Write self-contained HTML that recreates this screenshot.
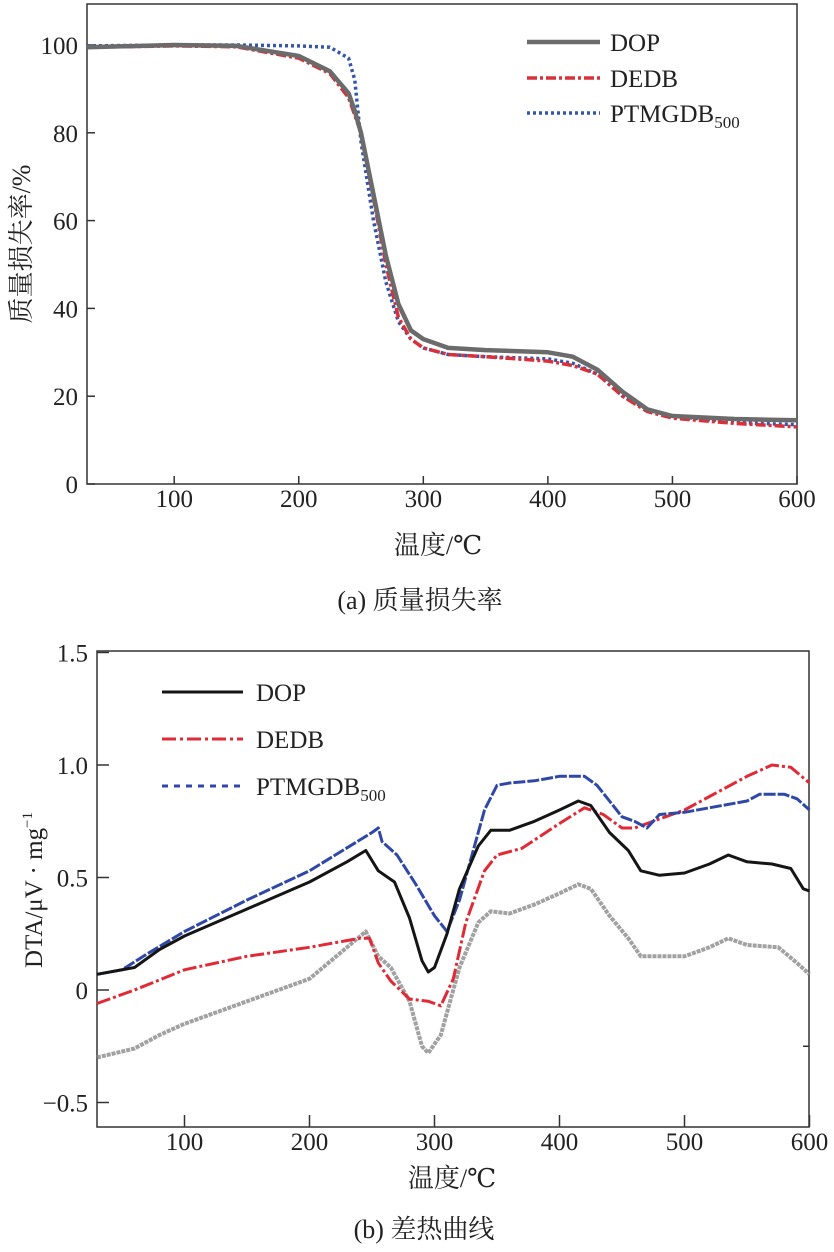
<!DOCTYPE html>
<html><head><meta charset="utf-8"><style>
body{margin:0;background:#fff;}
svg{display:block;}
svg text{font-family:"Liberation Serif","DejaVu Serif","Noto Serif CJK SC",serif;}
</style></head><body>
<svg id="c" width="834" height="1252" viewBox="0 0 834 1252"></svg>
<script>
const tempsA=[30,100,150,200,225,240,245,250,260,270,280,290,300,320,350,400,420,440,460,480,500,550,600];
const dopA=[99.5,100,99.8,97.5,94,89,85,80,66,52,41,35,33,31,30.5,30,29,26,21,17,15.5,14.8,14.5];
const dedbA=[99.5,99.8,99.6,97,93.5,88,84,80,65,50,38,33,31,29.5,29,28,27,25,20,16.5,15,13.8,13];
const ptmA=[99.8,100,100,99.8,99.5,97,92,78,60,46,37,33,31,29.5,29,28.5,27.5,25,20,17,15.5,14,13.5];
const ticksAx=[100,200,300,400,500,600];
const ticksAy=[0,20,40,60,80,100];

const blueX=[30,50,70,100,150,200,250,255,258,270,285,300,310,320,330,340,350,360,380,400,420,430,440,450,460,470,480,500,550,560,580,590,600];
const blueY=[0.07,0.09,0.16,0.26,0.40,0.53,0.70,0.72,0.66,0.60,0.47,0.33,0.26,0.40,0.60,0.80,0.91,0.92,0.93,0.95,0.95,0.91,0.84,0.77,0.75,0.72,0.78,0.79,0.84,0.87,0.87,0.85,0.80];
const blackX=[30,60,80,100,150,200,230,245,255,268,280,290,295,300,310,320,335,345,360,380,400,415,425,440,455,465,480,500,520,535,550,570,585,595,600];
const blackY=[0.07,0.10,0.18,0.24,0.36,0.48,0.57,0.62,0.53,0.48,0.32,0.13,0.08,0.10,0.25,0.45,0.64,0.71,0.71,0.75,0.80,0.84,0.82,0.70,0.62,0.53,0.51,0.52,0.56,0.60,0.57,0.56,0.54,0.45,0.44];
const redX=[30,60,100,150,200,240,248,255,265,280,295,305,315,325,340,350,370,400,420,435,450,460,480,500,520,550,570,585,600];
const redY=[-0.06,0.0,0.09,0.15,0.19,0.23,0.23,0.12,0.04,-0.04,-0.05,-0.07,0.05,0.30,0.53,0.60,0.63,0.74,0.81,0.78,0.72,0.72,0.76,0.80,0.86,0.95,1.0,0.99,0.92];
const grayX=[30,60,80,100,150,200,245,255,265,280,290,295,305,320,335,345,360,380,400,415,425,440,455,465,480,500,520,535,550,575,590,600];
const grayY=[-0.30,-0.26,-0.20,-0.15,-0.05,0.05,0.26,0.15,0.10,-0.05,-0.25,-0.28,-0.20,0.10,0.30,0.35,0.34,0.38,0.43,0.47,0.45,0.33,0.23,0.15,0.15,0.15,0.19,0.23,0.20,0.19,0.12,0.07];
const ticksBx=[100,200,300,400,500,600];
const ticksBy=[-0.5,0,0.5,1.0,1.5];
const ticksByLbl=["\u22120.5","0","0.5","1.0","1.5"];

const svg=document.getElementById('c');
const NS='http://www.w3.org/2000/svg';
const FF='Liberation Serif, DejaVu Serif, Noto Serif CJK SC, serif';
function mk(tag,attrs,parent){const e=document.createElementNS(NS,tag);for(const k in attrs)e.setAttribute(k,attrs[k]);(parent||svg).appendChild(e);return e;}
function txt(x,y,s,size,anchor,parent){const t=mk('text',{x:x,y:y,'font-size':size,'text-anchor':anchor||'middle',fill:'#222','font-family':FF},parent);t.textContent=s;return t;}

// Chart A
const axA=x=>87+(x-30)*(797-87)/570;
const ayA=v=>484-v*4.39;
const gA=mk('g',{});


const boxA=mk('rect',{x:87,y:4,width:710,height:480,fill:'none',stroke:'#333','stroke-width':1.5},gA);


ticksAx.forEach(t=>{const x=axA(t);mk('line',{x1:x,y1:484,x2:x,y2:476,stroke:'#333','stroke-width':1.5},gA);const l=txt(x,507,String(t),25,'middle',gA);});
ticksAy.forEach(t=>{const y=ayA(t);mk('line',{x1:87,y1:y,x2:95,y2:y,stroke:'#333','stroke-width':1.5},gA);const l=txt(78,y+9,String(t),25,'end',gA);});
function lineA(xs,ys,color,dash,w,name){const d=xs.map((x,i)=>(i?'L':'M')+axA(x).toFixed(1)+','+ayA(ys[i]).toFixed(1)).join('');const p=mk('path',{d:d,fill:'none',stroke:color,'stroke-width':w,'stroke-dasharray':dash,'stroke-linejoin':'round'},gA);}
lineA(tempsA,ptmA,'#3556a8','3 3',3.5,'series-ptmgdb-a');
lineA(tempsA,dedbA,'#d9303a','10 3 3 3',3.5,'series-dedb-a');
lineA(tempsA,dopA,'#6b6b6b','none',4.5,'series-dop-a');
const legA=[['DOP','#6b6b6b','none',42,4.5],['DEDB','#d9303a','10 3 3 3',78,3.5],['PTMGDB','#3556a8','3 3',113,3.5]];
legA.forEach(l=>{const g=mk('g',{},gA);mk('line',{x1:527,y1:l[3],x2:600,y2:l[3],stroke:l[1],'stroke-width':l[4],'stroke-dasharray':l[2]},g);const t=txt(610,l[3]+9,l[0],25,'start',g);if(l[0]==='PTMGDB'){const s=mk('tspan',{'font-size':17,dy:6},t);s.textContent='500';}});
let t=txt(0,0,'质量损失率/%',26,'middle');t.setAttribute('transform','translate(30,244) rotate(-90)');
t=txt(438,554,'温度/℃',26);
t=txt(420,609,'(a) 质量损失率',26);

// Chart B
const axB=x=>97+(x-30)*1.25;
const ayB=v=>990-v*225;
const gB=mk('g',{});


const boxB=mk('rect',{x:97,y:651,width:712,height:476,fill:'none',stroke:'#333','stroke-width':1.5},gB);


ticksBx.forEach(t=>{const x=axB(t);mk('line',{x1:x,y1:1127,x2:x,y2:1115,stroke:'#333','stroke-width':1.5},gB);const l=txt(x,1150,String(t),25,'middle',gB);});
ticksBy.forEach((t,i)=>{const y=ayB(t);mk('line',{x1:97,y1:y,x2:109,y2:y,stroke:'#333','stroke-width':1.5},gB);const l=txt(88,y+9,ticksByLbl[i],25,'end',gB);});
mk('line',{x1:809,y1:ayB(-0.25),x2:803,y2:ayB(-0.25),stroke:'#333','stroke-width':1.5},gB);
function lineB(xs,ys,color,dash,w,name,op){const d=xs.map((x,i)=>(i?'L':'M')+axB(x).toFixed(1)+','+ayB(ys[i]).toFixed(1)).join('');const p=mk('path',{d:d,fill:'none',stroke:color,'stroke-width':w,'stroke-dasharray':dash,'stroke-linejoin':'round',opacity:op||1},gB);}
lineB(grayX,grayY,'#8a8a8a','4 1',4,'series-reference-b',0.8);
lineB(redX,redY,'#e02a35','14 3 3 3',3,'series-dedb-b');
lineB(blueX,blueY,'#2f48a8','12 2',3,'series-ptmgdb-b');
lineB(blackX,blackY,'#151515','none',3,'series-dop-b');
const legB=[['DOP','#151515','none',692],['DEDB','#e02a35','14 4 3 4',739],['PTMGDB','#2f48a8','6 6',786]];
legB.forEach(l=>{const g=mk('g',{},gB);mk('line',{x1:162,y1:l[3],x2:243,y2:l[3],stroke:l[1],'stroke-width':3,'stroke-dasharray':l[2]},g);const t=txt(256,l[3]+9,l[0],25,'start',g);if(l[0]==='PTMGDB'){const s=mk('tspan',{'font-size':17,dy:6},t);s.textContent='500';}});
t=txt(0,0,'DTA/μV · mg',25);const sup=mk('tspan',{'font-size':15,dy:-10},t);sup.textContent='−1';t.setAttribute('transform','translate(42,890) rotate(-90)');
t=txt(452,1187,'温度/℃',26);
t=txt(424,1238,'(b) 差热曲线',26);
</script>
</body></html>
